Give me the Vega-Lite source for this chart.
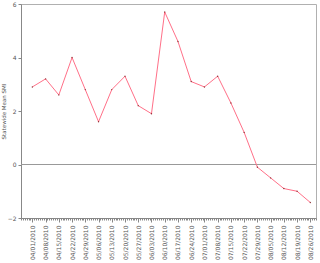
{
  "$schema": "https://vega.github.io/schema/vega-lite/v6.json",
  "autosize": {"type": "none"},
  "width": 295,
  "height": 214,
  "padding": {"left": 21, "top": 4, "right": 4, "bottom": 45},
  "background": "white",
  "config": {
    "view": {"stroke": "#b0b0b0", "strokeWidth": 1},
    "axis": {"labelFont": "DejaVu Sans", "labelFontSize": 6, "labelColor": "#555", "titleFont": "DejaVu Sans", "titleFontSize": 5.5, "titleFontWeight": "normal", "titleColor": "#555", "domainColor": "#888", "tickColor": "#888", "grid": false}
  },
  "data": {"values": [
    {"date": "2010/04/01", "smi": 2.9},
    {"date": "2010/04/08", "smi": 3.2},
    {"date": "2010/04/15", "smi": 2.6},
    {"date": "2010/04/22", "smi": 4.0},
    {"date": "2010/04/29", "smi": 2.8},
    {"date": "2010/05/06", "smi": 1.6},
    {"date": "2010/05/13", "smi": 2.8},
    {"date": "2010/05/20", "smi": 3.3},
    {"date": "2010/05/27", "smi": 2.2},
    {"date": "2010/06/03", "smi": 1.9},
    {"date": "2010/06/10", "smi": 5.7},
    {"date": "2010/06/17", "smi": 4.6},
    {"date": "2010/06/24", "smi": 3.1},
    {"date": "2010/07/01", "smi": 2.9},
    {"date": "2010/07/08", "smi": 3.3},
    {"date": "2010/07/15", "smi": 2.3},
    {"date": "2010/07/22", "smi": 1.2},
    {"date": "2010/07/29", "smi": -0.1},
    {"date": "2010/08/05", "smi": -0.5},
    {"date": "2010/08/12", "smi": -0.9},
    {"date": "2010/08/19", "smi": -1.0},
    {"date": "2010/08/26", "smi": -1.42}
  ]},
  "resolve": {"axis": {"x": "independent"}},
  "layer": [
    {
      "mark": {"type": "rule", "color": "#999", "strokeWidth": 1},
      "encoding": {"y": {"datum": 0, "type": "quantitative"}}
    },
    {
      "mark": {"type": "line", "color": "#ff7088", "strokeWidth": 1},
      "encoding": {
        "x": {"field": "date", "type": "temporal",
              "scale": {"domain": [{"year": 2010, "month": 3, "date": 26}, {"year": 2010, "month": 8, "date": 29}]},
              "axis": {"orient": "bottom", "title": null, "format": "%m/%d/%Y", "labelAngle": 270, "labelAlign": "right", "labelBaseline": "middle", "labelPadding": 3, "tickSize": 4,
                       "values": [
                         {"year": 2010, "month": 4, "date": 1}, {"year": 2010, "month": 4, "date": 8}, {"year": 2010, "month": 4, "date": 15}, {"year": 2010, "month": 4, "date": 22}, {"year": 2010, "month": 4, "date": 29},
                         {"year": 2010, "month": 5, "date": 6}, {"year": 2010, "month": 5, "date": 13}, {"year": 2010, "month": 5, "date": 20}, {"year": 2010, "month": 5, "date": 27},
                         {"year": 2010, "month": 6, "date": 3}, {"year": 2010, "month": 6, "date": 10}, {"year": 2010, "month": 6, "date": 17}, {"year": 2010, "month": 6, "date": 24},
                         {"year": 2010, "month": 7, "date": 1}, {"year": 2010, "month": 7, "date": 8}, {"year": 2010, "month": 7, "date": 15}, {"year": 2010, "month": 7, "date": 22}, {"year": 2010, "month": 7, "date": 29},
                         {"year": 2010, "month": 8, "date": 5}, {"year": 2010, "month": 8, "date": 12}, {"year": 2010, "month": 8, "date": 19}, {"year": 2010, "month": 8, "date": 26}
                       ]}},
        "y": {"field": "smi", "type": "quantitative",
              "scale": {"domain": [-2, 6], "nice": false, "zero": false},
              "axis": {"title": "Statewide Mean SMI", "values": [-2, -1, 0, 1, 2, 3, 4, 5, 6], "tickSize": 3, "labelPadding": 2, "titlePadding": 1}}
      }
    },
    {
      "mark": {"type": "point", "filled": true, "size": 2, "color": "#600"},
      "encoding": {
        "x": {"field": "date", "type": "temporal",
              "axis": {"orient": "bottom", "title": null, "labels": false, "domain": false, "tickSize": 2, "tickCount": {"interval": "day", "step": 1}}},
        "y": {"field": "smi", "type": "quantitative"}
      }
    }
  ]
}
